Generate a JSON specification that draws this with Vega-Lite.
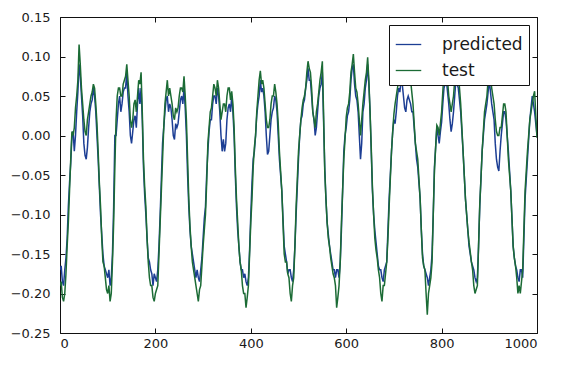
{
  "$schema": "https://vega.github.io/schema/vega-lite/v6.json",
  "width": 477,
  "height": 316,
  "autosize": "none",
  "padding": {"left": 60, "top": 17, "right": 29, "bottom": 32},
  "background": "white",
  "config": {
    "view": {"stroke": "#111", "strokeWidth": 1},
    "font": "DejaVu Sans",
    "axis": {"grid": false, "domain": false, "tickColor": "#111", "tickSize": -5, "labelFont": "DejaVu Sans", "labelFontSize": 13, "labelColor": "#1a1a1a", "title": null}
  },
  "data": {"values": [
    {"x":0,"predicted":-0.17,"test":-0.19},{"x":2.5,"predicted":-0.165,"test":-0.185},{"x":5,"predicted":-0.185,"test":-0.205},{"x":7.5,"predicted":-0.19,"test":-0.21},{"x":10,"predicted":-0.17,"test":-0.2},{"x":12.5,"predicted":-0.155,"test":-0.175},{"x":15,"predicted":-0.13,"test":-0.14},{"x":17.5,"predicted":-0.09,"test":-0.11},{"x":20,"predicted":-0.06,"test":-0.07},{"x":22.5,"predicted":-0.035,"test":-0.03},
    {"x":25,"predicted":0.0,"test":0.005},{"x":27.5,"predicted":0.005,"test":0.0},{"x":30,"predicted":-0.02,"test":0.01},{"x":32.5,"predicted":0.0,"test":0.035},{"x":35,"predicted":0.03,"test":0.05},{"x":37.5,"predicted":0.055,"test":0.07},{"x":40,"predicted":0.09,"test":0.115},{"x":42.5,"predicted":0.075,"test":0.09},{"x":45,"predicted":0.05,"test":0.06},{"x":47.5,"predicted":0.025,"test":0.04},
    {"x":50,"predicted":-0.01,"test":0.02},{"x":52.5,"predicted":-0.025,"test":0.005},{"x":55,"predicted":-0.03,"test":0.0},{"x":57.5,"predicted":-0.015,"test":0.02},{"x":60,"predicted":0.01,"test":0.03},{"x":62.5,"predicted":0.03,"test":0.04},{"x":65,"predicted":0.04,"test":0.05},{"x":67.5,"predicted":0.045,"test":0.055},{"x":70,"predicted":0.06,"test":0.065},{"x":72.5,"predicted":0.05,"test":0.06},
    {"x":75,"predicted":0.03,"test":0.04},{"x":77.5,"predicted":0.0,"test":0.015},{"x":80,"predicted":-0.03,"test":-0.02},{"x":82.5,"predicted":-0.065,"test":-0.06},{"x":85,"predicted":-0.1,"test":-0.09},{"x":87.5,"predicted":-0.125,"test":-0.13},{"x":90,"predicted":-0.15,"test":-0.16},{"x":92.5,"predicted":-0.165,"test":-0.165},{"x":95,"predicted":-0.17,"test":-0.18},{"x":97.5,"predicted":-0.175,"test":-0.195},
    {"x":100,"predicted":-0.18,"test":-0.2},{"x":102.5,"predicted":-0.17,"test":-0.19},{"x":105,"predicted":-0.19,"test":-0.21},{"x":107.5,"predicted":-0.18,"test":-0.2},{"x":110,"predicted":-0.15,"test":-0.16},{"x":112.5,"predicted":-0.09,"test":-0.11},{"x":115,"predicted":0.0,"test":-0.04},{"x":117.5,"predicted":0.0,"test":0.02},{"x":120,"predicted":0.02,"test":0.05},{"x":122.5,"predicted":0.04,"test":0.06},
    {"x":125,"predicted":0.05,"test":0.06},{"x":127.5,"predicted":0.03,"test":0.05},{"x":130,"predicted":0.04,"test":0.05},{"x":132.5,"predicted":0.055,"test":0.065},{"x":135,"predicted":0.06,"test":0.07},{"x":137.5,"predicted":0.06,"test":0.075},{"x":140,"predicted":0.08,"test":0.09},{"x":142.5,"predicted":0.05,"test":0.07},{"x":145,"predicted":0.03,"test":0.05},{"x":147.5,"predicted":0.0,"test":0.02},
    {"x":150,"predicted":-0.01,"test":0.01},{"x":152.5,"predicted":0.005,"test":0.02},{"x":155,"predicted":0.02,"test":0.04},{"x":157.5,"predicted":0.025,"test":0.045},{"x":160,"predicted":0.01,"test":0.03},{"x":162.5,"predicted":0.04,"test":0.05},{"x":165,"predicted":0.06,"test":0.07},{"x":167.5,"predicted":0.04,"test":0.065},{"x":170,"predicted":0.06,"test":0.08},{"x":172.5,"predicted":0.02,"test":0.03},
    {"x":175,"predicted":-0.04,"test":-0.03},{"x":177.5,"predicted":-0.075,"test":-0.065},{"x":180,"predicted":-0.1,"test":-0.09},{"x":182.5,"predicted":-0.13,"test":-0.13},{"x":185,"predicted":-0.155,"test":-0.16},{"x":187.5,"predicted":-0.16,"test":-0.18},{"x":190,"predicted":-0.17,"test":-0.19},{"x":192.5,"predicted":-0.175,"test":-0.19},{"x":195,"predicted":-0.19,"test":-0.205},{"x":197.5,"predicted":-0.175,"test":-0.21},
    {"x":200,"predicted":-0.18,"test":-0.2},{"x":202.5,"predicted":-0.185,"test":-0.195},{"x":205,"predicted":-0.17,"test":-0.19},{"x":207.5,"predicted":-0.14,"test":-0.15},{"x":210,"predicted":-0.1,"test":-0.11},{"x":212.5,"predicted":-0.055,"test":-0.07},{"x":215,"predicted":-0.01,"test":-0.03},{"x":217.5,"predicted":0.01,"test":0.01},{"x":220,"predicted":0.03,"test":0.04},{"x":222.5,"predicted":0.045,"test":0.055},
    {"x":225,"predicted":0.05,"test":0.07},{"x":227.5,"predicted":0.03,"test":0.05},{"x":230,"predicted":0.04,"test":0.06},{"x":232.5,"predicted":0.035,"test":0.05},{"x":235,"predicted":0.02,"test":0.04},{"x":237.5,"predicted":0.0,"test":0.025},{"x":240,"predicted":-0.005,"test":0.02},{"x":242.5,"predicted":0.015,"test":0.035},{"x":245,"predicted":0.01,"test":0.03},{"x":247.5,"predicted":0.015,"test":0.035},
    {"x":250,"predicted":0.03,"test":0.05},{"x":252.5,"predicted":0.045,"test":0.06},{"x":255,"predicted":0.05,"test":0.06},{"x":257.5,"predicted":0.04,"test":0.055},{"x":260,"predicted":0.06,"test":0.075},{"x":262.5,"predicted":0.035,"test":0.05},{"x":265,"predicted":0.0,"test":0.02},{"x":267.5,"predicted":-0.05,"test":-0.03},{"x":270,"predicted":-0.09,"test":-0.08},{"x":272.5,"predicted":-0.12,"test":-0.115},
    {"x":275,"predicted":-0.14,"test":-0.14},{"x":277.5,"predicted":-0.15,"test":-0.16},{"x":280,"predicted":-0.16,"test":-0.17},{"x":282.5,"predicted":-0.17,"test":-0.18},{"x":285,"predicted":-0.18,"test":-0.19},{"x":287.5,"predicted":-0.17,"test":-0.2},{"x":290,"predicted":-0.18,"test":-0.21},{"x":292.5,"predicted":-0.185,"test":-0.195},{"x":295,"predicted":-0.17,"test":-0.19},{"x":297.5,"predicted":-0.155,"test":-0.165},
    {"x":300,"predicted":-0.13,"test":-0.14},{"x":302.5,"predicted":-0.105,"test":-0.12},{"x":305,"predicted":-0.09,"test":-0.1},{"x":307.5,"predicted":-0.05,"test":-0.06},{"x":310,"predicted":-0.02,"test":-0.01},{"x":312.5,"predicted":0.005,"test":0.01},{"x":315,"predicted":0.02,"test":0.03},{"x":317.5,"predicted":0.02,"test":0.035},{"x":320,"predicted":0.04,"test":0.05},{"x":322.5,"predicted":0.05,"test":0.065},
    {"x":325,"predicted":0.05,"test":0.06},{"x":327.5,"predicted":0.04,"test":0.05},{"x":330,"predicted":0.06,"test":0.07},{"x":332.5,"predicted":0.05,"test":0.06},{"x":335,"predicted":0.03,"test":0.04},{"x":337.5,"predicted":0.0,"test":0.02},{"x":340,"predicted":-0.02,"test":0.03},{"x":342.5,"predicted":-0.005,"test":0.04},{"x":345,"predicted":-0.02,"test":0.04},{"x":347.5,"predicted":-0.01,"test":0.03},
    {"x":350,"predicted":0.02,"test":0.05},{"x":352.5,"predicted":0.035,"test":0.06},{"x":355,"predicted":0.04,"test":0.06},{"x":357.5,"predicted":0.03,"test":0.045},{"x":360,"predicted":0.05,"test":0.056},{"x":362.5,"predicted":0.03,"test":0.04},{"x":365,"predicted":0.0,"test":0.01},{"x":367.5,"predicted":-0.05,"test":-0.04},{"x":370,"predicted":-0.09,"test":-0.08},{"x":372.5,"predicted":-0.12,"test":-0.11},
    {"x":375,"predicted":-0.14,"test":-0.14},{"x":377.5,"predicted":-0.16,"test":-0.16},{"x":380,"predicted":-0.17,"test":-0.17},{"x":382.5,"predicted":-0.17,"test":-0.19},{"x":385,"predicted":-0.18,"test":-0.2},{"x":387.5,"predicted":-0.175,"test":-0.2},{"x":390,"predicted":-0.185,"test":-0.218},{"x":392.5,"predicted":-0.19,"test":-0.205},{"x":395,"predicted":-0.18,"test":-0.19},{"x":397.5,"predicted":-0.145,"test":-0.15},
    {"x":400,"predicted":-0.1,"test":-0.11},{"x":402.5,"predicted":-0.06,"test":-0.08},{"x":405,"predicted":-0.03,"test":-0.04},{"x":407.5,"predicted":-0.02,"test":-0.015},{"x":410,"predicted":0.0,"test":0.0},{"x":412.5,"predicted":0.025,"test":0.03},{"x":415,"predicted":0.04,"test":0.05},{"x":417.5,"predicted":0.05,"test":0.07},{"x":420,"predicted":0.07,"test":0.082},{"x":422.5,"predicted":0.055,"test":0.065},
    {"x":425,"predicted":0.06,"test":0.07},{"x":427.5,"predicted":0.05,"test":0.06},{"x":430,"predicted":0.03,"test":0.04},{"x":432.5,"predicted":0.0,"test":0.02},{"x":435,"predicted":-0.024,"test":0.01},{"x":437.5,"predicted":-0.02,"test":0.01},{"x":440,"predicted":0.0,"test":0.02},{"x":442.5,"predicted":0.02,"test":0.04},{"x":445,"predicted":0.03,"test":0.05},{"x":447.5,"predicted":0.035,"test":0.05},
    {"x":450,"predicted":0.05,"test":0.065},{"x":452.5,"predicted":0.045,"test":0.055},{"x":455,"predicted":0.03,"test":0.04},{"x":457.5,"predicted":0.0,"test":0.015},{"x":460,"predicted":-0.03,"test":-0.02},{"x":462.5,"predicted":-0.05,"test":-0.045},{"x":465,"predicted":-0.07,"test":-0.07},{"x":467.5,"predicted":-0.105,"test":-0.11},{"x":470,"predicted":-0.14,"test":-0.15},{"x":472.5,"predicted":-0.15,"test":-0.16},
    {"x":475,"predicted":-0.16,"test":-0.16},{"x":477.5,"predicted":-0.175,"test":-0.175},{"x":480,"predicted":-0.17,"test":-0.18},{"x":482.5,"predicted":-0.17,"test":-0.2},{"x":485,"predicted":-0.18,"test":-0.21},{"x":487.5,"predicted":-0.185,"test":-0.19},{"x":490,"predicted":-0.17,"test":-0.18},{"x":492.5,"predicted":-0.14,"test":-0.14},{"x":495,"predicted":-0.1,"test":-0.09},{"x":497.5,"predicted":-0.065,"test":-0.055},
    {"x":500,"predicted":-0.03,"test":-0.02},{"x":502.5,"predicted":0.0,"test":0.0},{"x":505,"predicted":0.02,"test":0.02},{"x":507.5,"predicted":0.025,"test":0.035},{"x":510,"predicted":0.04,"test":0.045},{"x":512.5,"predicted":0.045,"test":0.05},{"x":515,"predicted":0.06,"test":0.06},{"x":517.5,"predicted":0.07,"test":0.08},{"x":520,"predicted":0.085,"test":0.094},{"x":522.5,"predicted":0.07,"test":0.085},
    {"x":525,"predicted":0.07,"test":0.08},{"x":527.5,"predicted":0.05,"test":0.06},{"x":530,"predicted":0.03,"test":0.03},{"x":532.5,"predicted":0.02,"test":0.02},{"x":535,"predicted":0.0,"test":0.01},{"x":537.5,"predicted":0.01,"test":0.03},{"x":540,"predicted":0.03,"test":0.04},{"x":542.5,"predicted":0.05,"test":0.055},{"x":545,"predicted":0.06,"test":0.07},{"x":547.5,"predicted":0.065,"test":0.08},
    {"x":550,"predicted":0.08,"test":0.094},{"x":552.5,"predicted":0.02,"test":0.03},{"x":555,"predicted":-0.04,"test":-0.045},{"x":557.5,"predicted":-0.08,"test":-0.08},{"x":560,"predicted":-0.11,"test":-0.11},{"x":562.5,"predicted":-0.125,"test":-0.13},{"x":565,"predicted":-0.14,"test":-0.14},{"x":567.5,"predicted":-0.15,"test":-0.155},{"x":570,"predicted":-0.16,"test":-0.165},{"x":572.5,"predicted":-0.17,"test":-0.175},
    {"x":575,"predicted":-0.17,"test":-0.18},{"x":577.5,"predicted":-0.18,"test":-0.19},{"x":580,"predicted":-0.17,"test":-0.218},{"x":582.5,"predicted":-0.17,"test":-0.205},{"x":585,"predicted":-0.18,"test":-0.19},{"x":587.5,"predicted":-0.16,"test":-0.16},{"x":590,"predicted":-0.12,"test":-0.11},{"x":592.5,"predicted":-0.07,"test":-0.07},{"x":595,"predicted":-0.02,"test":-0.03},{"x":597.5,"predicted":0.0,"test":-0.005},
    {"x":600,"predicted":0.01,"test":0.023},{"x":602.5,"predicted":0.025,"test":0.035},{"x":605,"predicted":0.03,"test":0.04},{"x":607.5,"predicted":0.045,"test":0.055},{"x":610,"predicted":0.07,"test":0.08},{"x":612.5,"predicted":0.085,"test":0.09},{"x":615,"predicted":0.09,"test":0.103},{"x":617.5,"predicted":0.065,"test":0.08},{"x":620,"predicted":0.05,"test":0.06},{"x":622.5,"predicted":0.045,"test":0.055},
    {"x":625,"predicted":0.03,"test":0.04},{"x":627.5,"predicted":0.0,"test":0.02},{"x":630,"predicted":-0.03,"test":0.0},{"x":632.5,"predicted":-0.01,"test":0.02},{"x":635,"predicted":0.03,"test":0.04},{"x":637.5,"predicted":0.04,"test":0.055},{"x":640,"predicted":0.06,"test":0.07},{"x":642.5,"predicted":0.07,"test":0.08},{"x":645,"predicted":0.09,"test":0.099},{"x":647.5,"predicted":0.065,"test":0.07},
    {"x":650,"predicted":0.03,"test":0.03},{"x":652.5,"predicted":-0.02,"test":-0.015},{"x":655,"predicted":-0.07,"test":-0.066},{"x":657.5,"predicted":-0.1,"test":-0.1},{"x":660,"predicted":-0.12,"test":-0.13},{"x":662.5,"predicted":-0.135,"test":-0.145},{"x":665,"predicted":-0.15,"test":-0.155},{"x":667.5,"predicted":-0.165,"test":-0.17},{"x":670,"predicted":-0.17,"test":-0.18},{"x":672.5,"predicted":-0.17,"test":-0.2},
    {"x":675,"predicted":-0.18,"test":-0.21},{"x":677.5,"predicted":-0.185,"test":-0.19},{"x":680,"predicted":-0.17,"test":-0.19},{"x":682.5,"predicted":-0.165,"test":-0.175},{"x":685,"predicted":-0.16,"test":-0.16},{"x":687.5,"predicted":-0.12,"test":-0.13},{"x":690,"predicted":-0.08,"test":-0.09},{"x":692.5,"predicted":-0.05,"test":-0.055},{"x":695,"predicted":-0.02,"test":-0.02},{"x":697.5,"predicted":0.005,"test":0.005},
    {"x":700,"predicted":0.02,"test":0.027},{"x":702.5,"predicted":0.015,"test":0.04},{"x":705,"predicted":0.03,"test":0.05},{"x":707.5,"predicted":0.05,"test":0.06},{"x":710,"predicted":0.06,"test":0.07},{"x":712.5,"predicted":0.055,"test":0.075},{"x":715,"predicted":0.07,"test":0.09},{"x":717.5,"predicted":0.065,"test":0.095},{"x":720,"predicted":0.05,"test":0.1},{"x":722.5,"predicted":0.035,"test":0.085},
    {"x":725,"predicted":0.03,"test":0.08},{"x":727.5,"predicted":0.045,"test":0.09},{"x":730,"predicted":0.05,"test":0.09},{"x":732.5,"predicted":0.045,"test":0.08},{"x":735,"predicted":0.04,"test":0.07},{"x":737.5,"predicted":0.03,"test":0.055},{"x":740,"predicted":0.03,"test":0.04},{"x":742.5,"predicted":0.01,"test":0.015},{"x":745,"predicted":-0.01,"test":-0.01},{"x":747.5,"predicted":-0.03,"test":-0.02},
    {"x":750,"predicted":-0.04,"test":-0.03},{"x":752.5,"predicted":-0.06,"test":-0.055},{"x":755,"predicted":-0.08,"test":-0.08},{"x":757.5,"predicted":-0.12,"test":-0.12},{"x":760,"predicted":-0.15,"test":-0.155},{"x":762.5,"predicted":-0.165,"test":-0.165},{"x":765,"predicted":-0.17,"test":-0.17},{"x":767.5,"predicted":-0.175,"test":-0.2},{"x":770,"predicted":-0.18,"test":-0.227},{"x":772.5,"predicted":-0.19,"test":-0.2},
    {"x":775,"predicted":-0.18,"test":-0.19},{"x":777.5,"predicted":-0.17,"test":-0.18},{"x":780,"predicted":-0.15,"test":-0.16},{"x":782.5,"predicted":-0.1,"test":-0.1},{"x":785,"predicted":-0.04,"test":-0.045},{"x":787.5,"predicted":-0.015,"test":-0.015},{"x":790,"predicted":0.01,"test":0.013},{"x":792.5,"predicted":0.0,"test":0.01},{"x":795,"predicted":-0.01,"test":0.0},{"x":797.5,"predicted":0.005,"test":0.015},
    {"x":800,"predicted":0.017,"test":0.03},{"x":802.5,"predicted":0.04,"test":0.055},{"x":805,"predicted":0.06,"test":0.08},{"x":807.5,"predicted":0.065,"test":0.085},{"x":810,"predicted":0.07,"test":0.09},{"x":812.5,"predicted":0.055,"test":0.07},{"x":815,"predicted":0.04,"test":0.05},{"x":817.5,"predicted":0.02,"test":0.04},{"x":820,"predicted":0.005,"test":0.03},{"x":822.5,"predicted":0.015,"test":0.04},
    {"x":825,"predicted":0.03,"test":0.05},{"x":827.5,"predicted":0.05,"test":0.07},{"x":830,"predicted":0.07,"test":0.09},{"x":832.5,"predicted":0.065,"test":0.085},{"x":835,"predicted":0.06,"test":0.08},{"x":837.5,"predicted":0.045,"test":0.06},{"x":840,"predicted":0.03,"test":0.04},{"x":842.5,"predicted":0.005,"test":0.01},{"x":845,"predicted":-0.02,"test":-0.02},{"x":847.5,"predicted":-0.05,"test":-0.05},
    {"x":850,"predicted":-0.08,"test":-0.08},{"x":852.5,"predicted":-0.1,"test":-0.1},{"x":855,"predicted":-0.12,"test":-0.12},{"x":857.5,"predicted":-0.14,"test":-0.135},{"x":860,"predicted":-0.15,"test":-0.147},{"x":862.5,"predicted":-0.16,"test":-0.16},{"x":865,"predicted":-0.165,"test":-0.17},{"x":867.5,"predicted":-0.17,"test":-0.19},{"x":870,"predicted":-0.18,"test":-0.2},{"x":872.5,"predicted":-0.185,"test":-0.195},
    {"x":875,"predicted":-0.18,"test":-0.19},{"x":877.5,"predicted":-0.14,"test":-0.14},{"x":880,"predicted":-0.09,"test":-0.087},{"x":882.5,"predicted":-0.055,"test":-0.055},{"x":885,"predicted":-0.02,"test":-0.02},{"x":887.5,"predicted":0.0,"test":0.005},{"x":890,"predicted":0.02,"test":0.03},{"x":892.5,"predicted":0.03,"test":0.04},{"x":895,"predicted":0.04,"test":0.05},{"x":897.5,"predicted":0.055,"test":0.07},
    {"x":900,"predicted":0.07,"test":0.085},{"x":902.5,"predicted":0.055,"test":0.075},{"x":905,"predicted":0.04,"test":0.06},{"x":907.5,"predicted":0.03,"test":0.05},{"x":910,"predicted":0.02,"test":0.04},{"x":912.5,"predicted":-0.01,"test":0.02},{"x":915,"predicted":-0.03,"test":0.005},{"x":917.5,"predicted":-0.04,"test":0.0},{"x":920,"predicted":-0.045,"test":0.0},{"x":922.5,"predicted":-0.02,"test":0.01},
    {"x":925,"predicted":0.0,"test":0.01},{"x":927.5,"predicted":0.015,"test":0.025},{"x":930,"predicted":0.03,"test":0.04},{"x":932.5,"predicted":0.03,"test":0.04},{"x":935,"predicted":0.02,"test":0.03},{"x":937.5,"predicted":0.0,"test":0.0},{"x":940,"predicted":-0.02,"test":-0.03},{"x":942.5,"predicted":-0.045,"test":-0.05},{"x":945,"predicted":-0.07,"test":-0.07},{"x":947.5,"predicted":-0.105,"test":-0.105},
    {"x":950,"predicted":-0.14,"test":-0.14},{"x":952.5,"predicted":-0.155,"test":-0.155},{"x":955,"predicted":-0.165,"test":-0.165},{"x":957.5,"predicted":-0.17,"test":-0.18},{"x":960,"predicted":-0.18,"test":-0.2},{"x":962.5,"predicted":-0.185,"test":-0.19},{"x":965,"predicted":-0.17,"test":-0.2},{"x":967.5,"predicted":-0.17,"test":-0.185},{"x":970,"predicted":-0.18,"test":-0.17},{"x":972.5,"predicted":-0.13,"test":-0.12},
    {"x":975,"predicted":-0.08,"test":-0.07},{"x":977.5,"predicted":-0.055,"test":-0.045},{"x":980,"predicted":-0.03,"test":-0.02},{"x":982.5,"predicted":-0.005,"test":0.0},{"x":985,"predicted":0.02,"test":0.02},{"x":987.5,"predicted":0.035,"test":0.03},{"x":990,"predicted":0.05,"test":0.04},{"x":992.5,"predicted":0.04,"test":0.05},{"x":995,"predicted":0.03,"test":0.056},{"x":997.5,"predicted":0.015,"test":0.025},
    {"x":1000,"predicted":0.0,"test":-0.003}
  ]},
  "transform": [{"fold": ["predicted", "test"], "as": ["series", "value"]}],
  "layer": [
    {
      "mark": {"type": "line", "strokeWidth": 1.5, "clip": true},
      "encoding": {
        "x": {"field": "x", "type": "quantitative", "scale": {"domain": [0, 1000], "nice": false}, "axis": {"orient": "bottom", "values": [0, 200, 400, 600, 800, 1000], "format": "d", "labelPadding": 9}},
        "y": {"field": "value", "type": "quantitative", "scale": {"domain": [-0.25, 0.15], "nice": false, "zero": false}, "axis": {"orient": "left", "values": [-0.25, -0.2, -0.15, -0.1, -0.05, 0, 0.05, 0.1, 0.15], "format": ".2f", "labelPadding": 15}},
        "color": {"field": "series", "type": "nominal", "scale": {"domain": ["predicted", "test"], "range": ["#1c3e94", "#1b6b35"]},
          "legend": {"orient": "top-right", "offset": 8, "title": null, "symbolType": "stroke", "symbolSize": 650, "symbolStrokeWidth": 1.3, "labelFont": "DejaVu Sans", "labelFontSize": 17, "labelColor": "#1a1a1a", "labelOffset": 20, "rowPadding": 4, "strokeColor": "#111", "fillColor": "white", "padding": 6, "cornerRadius": 0}}
      }
    },
    {
      "mark": {"type": "line", "opacity": 0},
      "encoding": {
        "x": {"field": "x", "type": "quantitative", "axis": {"orient": "top", "values": [0, 200, 400, 600, 800, 1000], "labels": false}},
        "y": {"field": "value", "type": "quantitative", "axis": {"orient": "right", "values": [-0.25, -0.2, -0.15, -0.1, -0.05, 0, 0.05, 0.1, 0.15], "labels": false}},
        "detail": {"field": "series"}
      }
    }
  ],
  "resolve": {"axis": {"x": "independent", "y": "independent"}}
}
